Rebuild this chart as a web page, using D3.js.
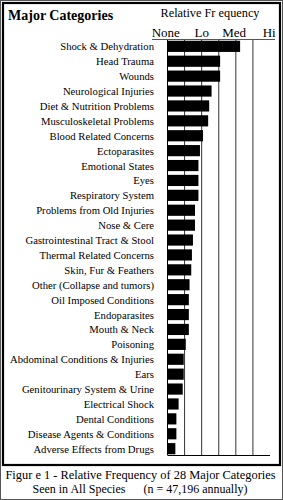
<!doctype html>
<html>
  <head>
    <script src="https://d3js.org/d3.v7.min.js"></script>
    <style>
      body { margin: 0; background: #fff; }
    </style>
  </head>
  <body>
    <script>
    // categories, top to bottom
    var categories = [
      "Shock & Dehydration", "Head Trauma", "Wounds", "Neurological Injuries",
      "Diet & Nutrition Problems", "Musculoskeletal Problems", "Blood Related Concerns",
      "Ectoparasites", "Emotional States", "Eyes", "Respiratory System",
      "Problems from Old Injuries", "Nose & Cere", "Gastrointestinal Tract & Stool",
      "Thermal Related Concerns", "Skin, Fur & Feathers", "Other (Collapse and tumors)",
      "Oil Imposed Conditions", "Endoparasites", "Mouth & Neck", "Poisoning",
      "Abdominal Conditions & Injuries", "Ears", "Genitourinary System & Urine",
      "Electrical Shock", "Dental Conditions", "Disease Agents & Conditions",
      "Adverse Effects from Drugs"
    ];

    // relative frequency (grid units, 0 - 6)
    var values = [
      4.25, 3.08, 3.08, 2.58, 2.44, 2.38, 2.08, 1.90, 1.81, 1.81, 1.81,
      1.61, 1.61, 1.49, 1.43, 1.39, 1.29, 1.25, 1.25, 1.25, 1.07,
      0.95, 0.95, 0.89, 0.65, 0.52, 0.52, 0.46
    ];

    var tickLabels = ["None", "Lo", "Med", "Hi"];
    var tickLabelPos = [-0.1, 2.0, 3.9, 5.95];
    var gridTicks = [1, 2, 3, 4, 5];

    var width = 283;
    var height = 500;

    var svg = d3.select("body")
              .append("svg")
              .attr("width", width)
              .attr("height", height)
              .style("display", "block");

    var font = "'Liberation Serif', 'Times New Roman', serif";

    // frames
    svg.append("rect")
      .attr("x", 0.5).attr("y", 0.5)
      .attr("width", width - 1).attr("height", height - 1)
      .attr("fill", "none")
      .attr("stroke", "#555")
      .attr("stroke-width", 1);

    svg.append("rect")
      .attr("x", 3).attr("y", 3)
      .attr("width", 277).attr("height", 462)
      .attr("fill", "none")
      .attr("stroke", "#000")
      .attr("stroke-width", 2.2);

    // scales
    var xScale = d3.scaleLinear()
                  .domain([0, 6])
                  .range([167.5, 270]);

    var yScale = d3.scaleBand()
                  .domain(categories)
                  .range([40, 455])
                  .paddingInner(0.25)
                  .paddingOuter(0.05);

    // grid lines
    svg.append("g")
      .selectAll("line")
      .data(gridTicks)
      .enter()
        .append("line")
        .attr("x1", function(d) { return xScale(d); })
        .attr("x2", function(d) { return xScale(d); })
        .attr("y1", 40)
        .attr("y2", 455)
        .attr("stroke", "#333")
        .attr("stroke-width", 1);

    // left axis line
    svg.append("line")
      .attr("x1", xScale(0)).attr("x2", xScale(0))
      .attr("y1", 40).attr("y2", 455)
      .attr("stroke", "#000");

    // top axis line
    svg.append("line")
      .attr("x1", 152).attr("x2", 275)
      .attr("y1", 39.5).attr("y2", 39.5)
      .attr("stroke", "#555");

    // bottom axis line
    svg.append("line")
      .attr("x1", xScale(0)).attr("x2", xScale(6))
      .attr("y1", 455.5).attr("y2", 455.5)
      .attr("stroke", "#000");

    // bars
    svg.append("g")
      .selectAll("rect")
      .data(values)
      .enter()
        .append("rect")
        .attr("x", xScale(0))
        .attr("y", function(d, i) { return yScale(categories[i]); })
        .attr("width", function(d) { return xScale(d) - xScale(0); })
        .attr("height", yScale.bandwidth())
        .attr("fill", "#000");

    // category labels
    svg.append("g")
      .selectAll("text")
      .data(categories)
      .enter()
        .append("text")
        .attr("x", 154)
        .attr("y", function(d) { return yScale(d) + yScale.bandwidth() / 2 + 4; })
        .attr("text-anchor", "end")
        .attr("font-family", font)
        .attr("font-size", "10.7px")
        .attr("fill", "#000")
        .text(function(d) { return d; });

    // tick labels
    svg.append("g")
      .selectAll("text")
      .data(tickLabels)
      .enter()
        .append("text")
        .attr("x", function(d, i) { return xScale(tickLabelPos[i]); })
        .attr("y", 37)
        .attr("text-anchor", "middle")
        .attr("font-family", font)
        .attr("font-size", "13px")
        .text(function(d) { return d; });

    // titles
    svg.append("text")
      .attr("x", 8).attr("y", 20)
      .attr("font-family", font)
      .attr("font-weight", "bold")
      .attr("font-size", "14px")
      .text("Major Categories");

    svg.append("text")
      .attr("x", 210).attr("y", 17)
      .attr("text-anchor", "middle")
      .attr("font-family", font)
      .attr("font-size", "12.3px")
      .text("Relative Fr equency");

    // caption
    svg.append("text")
      .attr("x", 140.5).attr("y", 479)
      .attr("text-anchor", "middle")
      .attr("font-family", font)
      .attr("font-size", "12.4px")
      .text("Figur e 1 - Relative Frequency of 28 Major Categories");

    svg.append("text")
      .attr("x", 140).attr("y", 493)
      .attr("text-anchor", "middle")
      .attr("font-family", font)
      .attr("font-size", "12px")
      .attr("xml:space", "preserve")
      .style("white-space", "pre")
      .text("Seen in All Species      (n = 47,196 annually)");
    </script>
  </body>
</html>
